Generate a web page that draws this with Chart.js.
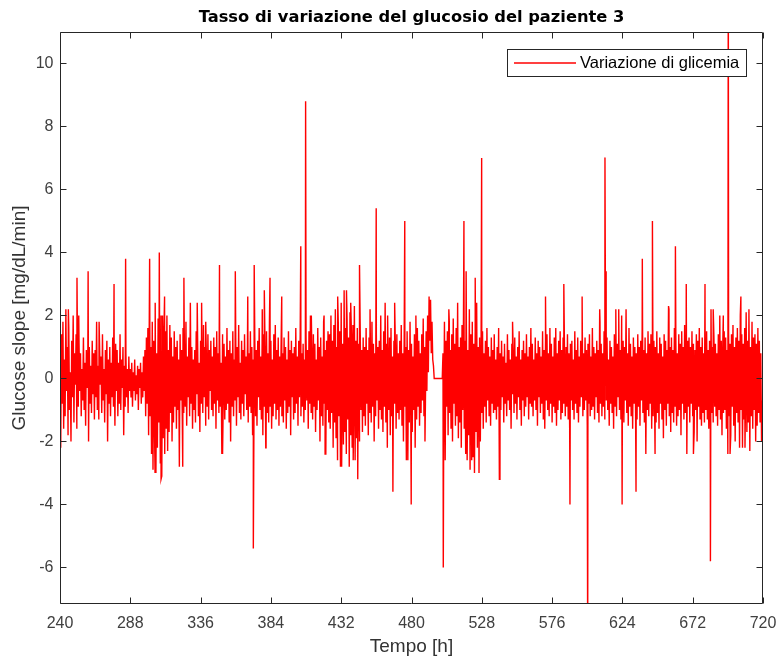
<!DOCTYPE html>
<html>
<head>
<meta charset="utf-8">
<script src="https://cdn.jsdelivr.net/npm/chart.js@4.4.0/dist/chart.umd.min.js"></script>
<style>
html,body{margin:0;padding:0;background:#fff;}
#wrap{width:778px;height:659px;position:relative;}
</style>
</head>
<body>
<div id="wrap"><canvas id="c"></canvas></div>
<script>
// ---- tick labels / axis ranges ----
const xTicks = [240, 288, 336, 384, 432, 480, 528, 576, 624, 672, 720];
const yTicks = [-6, -4, -2, 0, 2, 4, 6, 8, 10];
const timeStart = 240;   // h
const timeEnd = 720;     // h
const yMin = -7.16;
const yMax = 11;

const slopeValues = [
  0.4,-2.2,1.4,-0.8,1.8,-1.6,0.6,-1.2,2.2,-0.4,1.0,-1.8,1.6,-1.0,0.2,-2.0,1.2,-0.6,2.0,-1.4,0.8,-0.2,1.4,-1.6,
  0.6,-0.9,1.1,-0.4,0.8,-1.2,0.3,-0.7,1.3,-1.0,0.5,-1.5,0.9,-0.3,0.7,-2.0,1.0,-0.8,0.4,-1.1,1.2,-0.5,0.8,-1.3,
  0.9,-0.6,1.8,-1.0,0.4,-1.3,1.1,-0.2,0.7,-1.1,1.4,-0.7,0.3,-1.4,0.9,-0.5,1.2,-2.0,0.6,-0.8,1.0,-1.2,0.5,-0.6,
  1.3,-0.9,0.7,-1.5,1.1,-0.4,0.9,-1.2,0.5,-0.8,1.4,-1.0,0.6,-0.3,1.0,-1.8,0.4,-0.9,0.8,-0.6,0.3,-1.1,0.7,-0.4,
  0.3,-0.6,0.5,-0.9,0.2,-0.4,0.6,-0.7,0.1,-0.5,0.4,-1.0,0.3,-0.3,0.5,-0.8,0.2,-0.6,0.7,-0.4,
  0.9,-1.2,1.3,-0.8,
  1.6,-1.8,2.2,-1.2,1.0,-2.4,1.8,-2.9,1.2,-1.5,2.4,-3.0,0.8,-2.2,1.9,-1.4,1.4,-2.7,2.0,-3.1,1.1,-1.9,1.6,-2.4,
  1.5,-1.6,2.0,-2.3,0.9,-1.7,1.7,-1.1,1.3,-2.0,0.7,-1.4,1.5,-0.9,1.0,-1.6,
  1.2,-1.0,0.6,-2.8,1.4,-0.7,0.9,-1.3,1.6,-1.1,0.4,-0.9,1.8,-1.5,0.7,-0.6,1.3,-1.2,2.4,-0.8,1.0,-1.6,0.6,-1.0,
  0.9,-1.4,1.5,-0.5,1.1,-1.2,0.5,-1.7,1.2,-0.8,0.8,-1.1,1.7,-0.6,1.0,-1.5,0.6,-0.9,1.4,-1.3,0.9,-0.4,1.2,-1.0,
  0.7,-1.2,1.3,-0.8,1.0,-1.6,1.5,-0.7,0.8,-1.1,1.2,-0.9,0.5,-2.4,1.4,-0.6,1.1,-1.3,0.7,-1.0,1.6,-0.8,0.9,-1.4,
  1.2,-2.0,0.8,-0.9,1.5,-1.2,0.6,-0.7,1.3,-1.5,1.0,-0.6,1.7,-1.1,0.5,-1.3,1.2,-0.8,0.9,-1.2,1.4,-0.5,0.7,-1.0,
  1.1,-1.4,0.8,-0.9,1.5,-1.1,1.0,-1.8,0.6,-0.7,1.3,-1.2,0.9,-1.5,1.2,-0.6,1.6,-1.0,0.7,-1.3,1.1,-1.8,1.4,-0.9,
  1.0,-2.2,1.5,-1.1,0.8,-1.4,1.8,-0.9,1.2,-1.6,0.6,-1.2,1.4,-0.8,1.7,-1.3,0.9,-1.0,1.3,-1.5,0.7,-0.9,1.2,-1.2,
  0.8,-1.4,1.3,-0.7,1.0,-1.6,0.6,-1.1,1.5,-0.9,0.9,-1.8,1.2,-0.6,0.8,-1.3,
  1.0,-1.1,1.6,-0.8,0.7,-1.5,1.2,-0.6,1.4,-1.2,0.8,-0.9,1.1,-1.4,0.6,-1.0,1.3,-0.7,0.9,-1.6,1.5,-0.8,2.0,-1.1,
  0.8,-1.3,1.4,-0.9,1.1,-1.7,0.6,-1.0,1.6,-0.7,1.0,-2.0,1.3,-1.2,0.7,-1.5,1.8,-0.8,0.9,-2.4,1.2,-1.0,1.5,-1.4,
  1.4,-1.6,2.0,-1.1,1.2,-2.2,1.7,-1.4,2.2,-1.9,1.0,-2.6,1.8,-1.2,1.5,-2.8,2.4,-1.5,1.1,-2.1,2.8,-1.7,1.6,-2.4,
  1.9,-1.3,1.3,-2.8,2.1,-1.8,1.4,-2.2,1.7,-1.1,2.3,-2.6,1.2,-1.9,1.6,-1.4,1.1,-2.0,1.5,-1.0,0.9,-1.7,1.3,-1.2,
  1.0,-1.5,1.6,-0.8,0.9,-1.8,1.3,-1.1,0.7,-1.4,1.8,-0.9,1.1,-2.0,0.8,-1.2,1.4,-0.7,1.0,-1.6,1.2,-1.0,2.0,-1.3,
  0.9,-1.7,1.5,-0.9,2.4,-1.4,1.1,-2.2,0.8,-1.0,1.3,-1.8,1.6,-1.2,0.7,-1.5,1.2,-0.8,1.0,-1.6,1.4,-1.1,0.8,-1.3,
  1.2,-1.0,1.7,-1.5,0.8,-2.0,1.3,-0.9,1.0,-2.6,1.5,-1.2,0.9,-1.4,1.8,-1.1,1.1,-1.7,0.7,-1.0,1.4,-2.2,1.0,-1.3,
  1.6,-0.9,1.2,-1.5,0.8,-1.1,1.4,-0.7,1.9,-1.2,
  1.0,-0.8,1.5,-0.4,2.0,0.2,2.6,1.2,2.5,0.8,1.8,0.6,0.4,
  0,0,0,0,0,0,0,0,0,0,0,0,
  0.8,-1.4,1.8,-2.6,1.2,-0.9,1.5,-1.8,2.2,-1.1,0.9,-1.6,1.4,-2.0,1.9,-0.8,1.1,-1.5,1.6,-1.2,2.4,-1.9,1.0,-1.4,1.3,
  -2.2,1.7,-1.0,2.0,-1.6,1.2,-2.4,1.5,-2.6,0.9,-1.8,2.2,-2.9,1.4,-1.3,1.8,-2.5,1.1,-3.0,1.6,-1.7,2.4,-2.2,1.0,
  -1.5,1.3,-2.0,0.9,-1.1,1.5,-1.6,0.8,-0.9,1.2,-1.4,1.6,-0.7,1.0,-1.2,0.7,-1.5,1.3,-0.8,0.9,-1.1,1.4,-1.0,0.6,
  -1.3,1.0,-0.9,1.6,-3.2,0.8,-1.0,1.2,-0.6,0.7,-1.4,1.1,-0.8,0.5,-1.2,1.4,-0.7,0.9,-1.0,0.6,-1.6,1.1,-0.5,0.8,
  -1.1,1.3,-0.8,0.7,-1.3,1.0,-0.6,1.5,-1.0,0.6,-1.5,0.9,-0.7,1.2,-1.2,0.8,-0.9,1.4,-0.6,0.7,-1.3,1.0,-0.8,1.6,
  -0.9,1.1,-1.2,0.6,-0.7,1.3,-1.0,0.8,-1.5,1.2,-0.6,1.0,-1.1,0.7,-0.8,1.5,-1.3,0.9,-1.6,1.2,-0.7,1.4,-1.0,0.8,
  -1.2,1.6,-0.8,1.1,-1.4,0.7,-0.9,1.3,-1.1,1.6,-1.5,0.8,-1.0,1.2,-0.7,1.5,-1.3,0.9,-1.1,1.3,-0.8,0.7,-1.2,1.0,
  -0.9,1.4,-1.3,0.8,-1.6,1.1,-0.7,1.2,-1.0,0.6,-1.3,1.5,-0.8,0.9,-1.1,1.3,-1.4,0.7,-0.9,1.2,-0.6,1.0,-1.2,0.8,
  -1.0,1.3,-0.7,0.9,-1.5,1.1,-0.8,1.4,-1.2,0.7,-1.0,1.6,-0.9,1.0,-1.3,0.8,-0.6,1.2,-1.1,0.9,-1.4,2.2,-0.8,1.1,
  -1.2,0.8,-0.9,1.5,-1.3,1.0,-0.7,1.3,-1.0,0.6,-1.5,1.2,-0.8,1.0,-1.1,0.7,-1.6,1.4,-0.9,0.8,-1.2,1.1,-0.6,1.3,
  -1.0,0.9,-1.3,2.0,-0.8,1.2,-1.4,1.0,-0.7,2.2,-1.1,0.8,-1.5,1.6,-0.9,1.1,-1.2,0.7,-1.6,1.3,-0.8,1.0,-1.1,0.8,
  -1.3,1.4,-0.9,1.0,-1.5,1.2,-0.7,1.6,-1.1,0.9,-1.4,1.3,-2.4,0.8,-1.0,1.5,-1.2,1.1,-0.8,1.4,-1.6,0.9,-1.2,1.2,
  -0.9,1.0,-1.4,1.5,-1.1,0.8,-1.6,1.3,-0.8,1.1,-1.3,0.7,-1.9,1.4,-1.0,1.2,-1.5,0.9,-0.8,2.3,-1.2,1.0,-1.7,1.3,
  -1.1,0.9,-1.4,1.6,-0.9,1.2,-1.5,0.8,-1.2,1.4,-1.0,1.1,-1.8,1.5,-0.8,1.0,-1.3,1.7,-1.1,0.9,-2.4,1.2,-0.9,1.3,
  -1.4,1.0,-0.8,1.5,-1.2,1.1,-1.7,0.9,-1.0,1.4,-2.0,1.2,-0.9,1.6,-1.3,1.0,-1.5,1.3,-1.1,0.8,-1.4,1.2,-1.0,1.5,
  -1.3,0.9,-1.6,1.2,-0.8,2.2,-1.1,1.0,-1.4,1.3,-0.9,1.1,-1.2,0.8,-1.5,1.4,-1.0,2.0,-1.3,1.2,-1.8,1.0,-1.1,1.5,
  -1.0,1.3,-1.6,0.9,-2.4,1.5,-1.2,1.1,-1.8,1.4,-0.9,1.7,-1.5,1.0,-2.0,1.3,-1.1,1.6,-1.4,1.2,-2.2,2.0,-1.0,1.4,
  -2.2,1.1,-1.3,1.6,-1.0,2.1,-1.7,1.2,-1.4,1.5,-2.3,1.0,-1.2,1.8,-1.6,1.3,-1.0,1.4,-2.0,1.1,-1.5,1.6,-1.1,1.2,
  -1.4,0.8,-2.0,-0.7,-1.2
];

// ---- isolated spikes (time in h, slope value) ----
const spikeTimes = [
  245.7,251.6,252.8,259.2,266.7,276.9,284.8,301.2,304.9,307.8,309.0,310.0,311.4,323.8,324.6,
  333.7,336.7,339.5,348.9,351.0,359.7,368.2,372.0,372.6,378.1,379.5,380.7,383.4,391.4,404.4,
  407.7,411.6,420.3,421.0,429.6,432.3,435.6,438.5,440.2,443.3,444.5,451.7,455.9,463.7,467.3,
  468.5,475.4,477.5,479.8,483.0,489.2,501.7,505.8,515.8,517.3,521.1,523.5,526.1,527.9,540.4,
  549.0,571.5,584.0,588.2,596.5,600.3,608.7,612.1,612.9,619.5,621.5,623.8,633.3,637.6,644.5,
  646.3,655.8,660.2,667.6,672.5,680.4,684.1,686.0,692.9,696.3,697.5,704.9,707.7,710.4
];
const spikeValues = [
  2.2,3.2,2.0,3.4,1.8,3.0,3.8,3.8,-3.0,4.0,-3.2,2.0,2.6,-2.8,3.2,
  2.4,2.4,1.8,3.6,-2.4,3.4,2.6,-5.4,3.6,2.2,2.8,-2.2,3.2,2.6,4.2,
  8.8,2.0,2.0,-2.4,2.6,-2.8,2.8,2.4,-2.6,-3.2,3.6,2.2,5.4,2.0,-3.6,
  2.4,5.0,-2.6,-4.0,2.0,-2.0,-6.0,1.8,5.0,3.4,-2.6,3.2,-3.0,7.0,-3.2,
  1.8,2.6,3.0,-4.0,2.6,-9.0,1.8,7.0,3.4,2.2,2.2,-4.0,-3.6,3.8,5.0,
  -2.4,2.2,4.2,3.0,-2.4,3.0,-5.8,2.2,2.0,14.0,-2.4,2.6,-2.2,2.2
];

const seriesLabel = 'Variazione di glicemia';
const titleText = 'Tasso di variazione del glucosio del paziente 3';
const xLabel = 'Tempo [h]';
const yLabel = 'Glucose slope [mg/dL/min]';

// ---- build the point table from the arrays ----
const stepH = (timeEnd - timeStart) / (slopeValues.length - 1);
const points = slopeValues.map((v, i) => ({ x: timeStart + i * stepH, y: v }));
spikeTimes.forEach((t, i) => points.push({ x: t, y: spikeValues[i] }));
points.sort((a, b) => a.x - b.x);

const FONT = "'Liberation Sans', Arial, Helvetica, sans-serif";

const framePlugin = {
  id: 'matlabFrame',
  afterLayout(chart) {
    // centre the title over the axes box, as MATLAB does
    if (chart.titleBlock) {
      chart.titleBlock.left = chart.chartArea.left;
      chart.titleBlock.right = chart.chartArea.right;
    }
  },
  afterDraw(chart) {
    const { ctx, chartArea: a, scales: { x, y } } = chart;
    ctx.save();
    ctx.strokeStyle = '#262626';
    ctx.lineWidth = 1;
    const L = Math.round(a.left) + 0.5, R = Math.round(a.right) - 0.5;
    const T = Math.round(a.top) + 0.5, B = Math.round(a.bottom) - 0.5;
    ctx.beginPath();
    ctx.rect(L, T, R - L, B - T);
    xTicks.forEach(v => {
      const px = Math.round(x.getPixelForValue(v)) + 0.5;
      ctx.moveTo(px, B); ctx.lineTo(px, B - 6);
      ctx.moveTo(px, T); ctx.lineTo(px, T + 6);
    });
    yTicks.forEach(v => {
      const py = Math.round(y.getPixelForValue(v)) + 0.5;
      ctx.moveTo(L, py); ctx.lineTo(L + 6, py);
      ctx.moveTo(R, py); ctx.lineTo(R - 6, py);
    });
    ctx.stroke();

    // legend box (inside the axes, top right)
    const label = chart.data.datasets[0].label;
    ctx.font = '16.5px ' + FONT;
    const tw = ctx.measureText(label).width;
    const lineLen = 62, pad = 6.5, gap = 4;
    const bw = Math.round(pad + lineLen + gap + tw + 7.5);
    const bh = 27;
    const bx = Math.round(a.right - 17.5 - bw) + 0.5;
    const by = Math.round(a.top + 17) + 0.5;
    ctx.fillStyle = '#ffffff';
    ctx.fillRect(bx, by, bw, bh);
    ctx.strokeStyle = '#262626';
    ctx.strokeRect(bx, by, bw, bh);
    const ly = by + bh / 2;
    ctx.strokeStyle = '#ff0000';
    ctx.lineWidth = 1.4;
    ctx.beginPath();
    ctx.moveTo(bx + pad, ly); ctx.lineTo(bx + pad + lineLen, ly);
    ctx.stroke();
    ctx.fillStyle = '#000000';
    ctx.textBaseline = 'middle';
    ctx.textAlign = 'left';
    ctx.fillText(label, bx + pad + lineLen + gap, ly + 0.5);
    ctx.restore();
  }
};

new Chart(document.getElementById('c'), {
  type: 'line',
  data: {
    datasets: [{
      label: seriesLabel,
      data: points,
      borderColor: '#ff0000',
      borderWidth: 1.4,
      pointRadius: 0,
      tension: 0.000001,
      capBezierPoints: false,
      fill: false
    }]
  },
  options: {
    responsive: true,
    maintainAspectRatio: false,
    animation: false,
    events: [],
    layout: { padding: { left: 0, right: 15, top: 0, bottom: 0 } },
    plugins: {
      legend: { display: false },
      tooltip: { enabled: false },
      title: {
        display: true,
        text: titleText,
        color: '#000000',
        font: { family: "'DejaVu Sans', sans-serif", size: 16.3, weight: 'bold' },
        padding: { top: 8.4, bottom: 4.0 }
      }
    },
    scales: {
      x: {
        type: 'linear',
        min: timeStart,
        max: timeEnd,
        afterBuildTicks: s => { s.ticks = xTicks.map(v => ({ value: v })); },
        afterFit: s => { s.height = 55; s.paddingRight = 0; s.paddingLeft = 0; },
        ticks: { font: { family: FONT, size: 16 }, color: '#404040', padding: 9.5, maxRotation: 0, autoSkip: false },
        grid: { display: false, drawTicks: false },
        border: { display: false },
        title: { display: true, text: xLabel, color: '#333333', font: { family: FONT, size: 19 }, padding: { top: 0, bottom: 1 } }
      },
      y: {
        type: 'linear',
        min: yMin,
        max: yMax,
        afterBuildTicks: s => { s.ticks = yTicks.map(v => ({ value: v })); },
        afterFit: s => { s.width = 60; },
        ticks: { font: { family: FONT, size: 16 }, color: '#404040', padding: 6.5 },
        grid: { display: false, drawTicks: false },
        border: { display: false },
        title: { display: true, text: yLabel, color: '#333333', font: { family: FONT, size: 19 }, padding: { top: 8.6, bottom: 0 } }
      }
    }
  },
  plugins: [framePlugin]
});
</script>
</body>
</html>
